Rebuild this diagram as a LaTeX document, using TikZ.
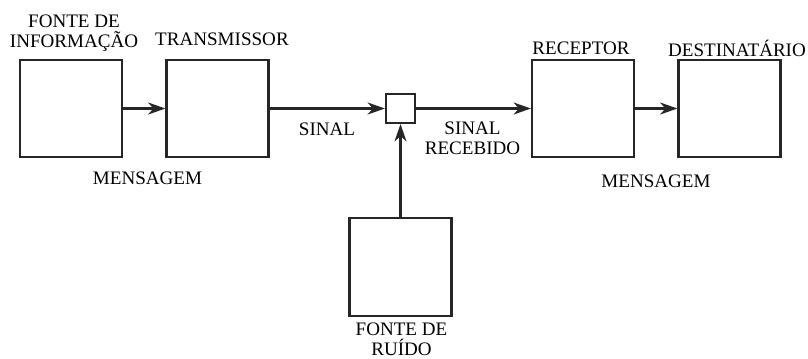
\documentclass[tikz,border=0pt]{standalone}
\usepackage{fontspec}
\setmainfont{Liberation Serif}
\usetikzlibrary{arrows.meta}
\tikzset{
  blockbox/.style={draw=black!85, line width=1.6pt, minimum width=76.5pt, minimum height=72.75pt, inner sep=0pt},
  sumbox/.style={draw=black!85, line width=1.6pt, minimum size=21.75pt, inner sep=0pt},
  flow/.style={draw=black!85, line width=1.6pt, -{Stealth[length=13pt,width=9pt,inset=4pt]}},
  lbl/.style={font=\fontsize{14.3}{15}\selectfont, align=center, inner sep=0pt}
}
\begin{document}
\begin{tikzpicture}[x=0.75pt, y=-0.75pt]
    \useasboundingbox (0, 0) rectangle (808, 358);
    \node [blockbox] (fonte) at (71, 108.5) {};
    \node [blockbox] (trans) at (217.5, 108.5) {};
    \node [sumbox] (soma) at (400.5, 108.5) {};
    \node [blockbox] (recep) at (583, 108.5) {};
    \node [blockbox] (dest) at (729.5, 108.5) {};
    \node [blockbox, minimum height=73.5pt] (ruido) at (400.5, 267) {};
    \node [lbl] (lfonte) at (74, 33) {FONTE DE\\INFORMAÇÃO};
    \node [lbl] (ltrans) at (222, 39) {TRANSMISSOR};
    \node [lbl] (lrecep) at (581, 48) {RECEPTOR};
    \node [lbl] (ldest) at (737, 48) {DESTINATÁRIO};
    \node [lbl] (lsinal) at (327, 129) {SINAL};
    \node [lbl] (lmsg1) at (147.5, 178) {MENSAGEM};
    \node [lbl] (lreceb) at (472.5, 138) {SINAL\\RECEBIDO};
    \node [lbl] (lmsg2) at (656, 181) {MENSAGEM};
    \node [lbl] (lruido) at (401.5, 339) {FONTE DE\\RUÍDO};
    \draw [flow] (fonte) -- (trans);
    \draw [flow] (trans) -- (soma);
    \draw [flow] (soma) -- (recep);
    \draw [flow] (recep) -- (dest);
    \draw [flow] (ruido) -- (soma);
  \end{tikzpicture}
\end{document}
